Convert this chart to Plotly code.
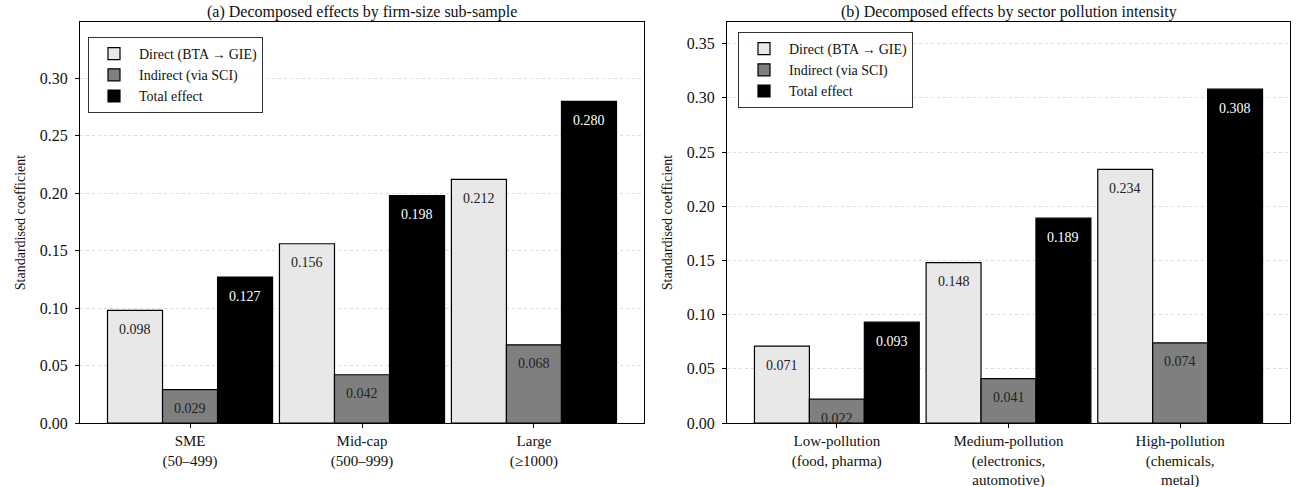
import plotly.graph_objects as go

# ---- data ----
size_labels = ["SME<br>(50–499)", "Mid-cap<br>(500–999)", "Large<br>(≥1000)"]
size_direct = [0.098, 0.156, 0.212]
size_indirect = [0.029, 0.042, 0.068]
size_total = [0.127, 0.198, 0.280]

poll_labels = ["Low-pollution<br>(food, pharma)",
               "Medium-pollution<br>(electronics,<br>automotive)",
               "High-pollution<br>(chemicals,<br>metal)"]
poll_direct = [0.071, 0.148, 0.234]
poll_indirect = [0.022, 0.041, 0.074]
poll_total = [0.093, 0.189, 0.308]

series_names = ["Direct (BTA\u2009\u2192\u2009GIE)", "Indirect (via SCI)", "Total effect"]
colors = ["#e8e8e8", "#7f7f7f", "#000000"]
label_colors = ["#222222", "#222222", "#ffffff"]

FONT = "Liberation Serif"
OFF = 0
W, H = 1298, 487
BW = 0.32
offsets = [-0.48, -0.16, 0.16]

fig = go.Figure()

panels = [
    dict(xa="x", ya="y", legend="legend", labels=size_labels,
         data=[size_direct, size_indirect, size_total],
         title="(a) Decomposed effects by firm-size sub-sample"),
    dict(xa="x2", ya="y2", legend="legend2", labels=poll_labels,
         data=[poll_direct, poll_indirect, poll_total],
         title="(b) Decomposed effects by sector pollution intensity"),
]

annotations = []
for p in panels:
    xs = list(range(len(p["labels"])))
    for k, vals in enumerate(p["data"]):
        fig.add_trace(go.Bar(
            x=xs, y=vals, width=BW, offset=offsets[k],
            name=series_names[k], marker=dict(color=colors[k], line=dict(color="#000000", width=1.2)),
            xaxis=p["xa"], yaxis=p["ya"], legend=p["legend"], hoverinfo="y",
        ))
        for i, v in zip(xs, vals):
            annotations.append(dict(
                x=i + offsets[k] + BW / 2, y=v, xref=p["xa"], yref=p["ya"],
                text=f"{v:.3f}", showarrow=False, yshift=-19,
                font=dict(family=FONT, size=14, color=label_colors[k]),
            ))

def fx(px):
    return (px - OFF) / W

def fy(py):
    return 1 - (py - OFF) / H

y_dom = [fy(423), fy(22)]

axis_common = dict(
    showline=True, linecolor="#000000", linewidth=1, mirror=True,
    ticks="outside", ticklen=4, tickcolor="#000000",
    zeroline=False, automargin=False,
)

ytitle = dict(text="Standardised coefficient", font=dict(family=FONT, size=14, color="#111111"), standoff=10)
xtickfont = dict(family=FONT, size=15, color="#111111")
ytickfont = dict(family=FONT, size=16, color="#111111")

fig.update_layout(
    width=W, height=H, margin=dict(l=0, r=0, t=0, b=0, autoexpand=False),
    plot_bgcolor="#ffffff", paper_bgcolor="#ffffff",
    showlegend=True, barmode="overlay",
    font=dict(family=FONT, size=14, color="#111111"),
    xaxis=dict(domain=[fx(80), fx(644)], anchor="y", range=[-0.64, 2.64],
               tickvals=[0, 1, 2], ticktext=size_labels, showgrid=False,
               tickfont=xtickfont, **axis_common),
    yaxis=dict(domain=y_dom, anchor="x", range=[0, 0.349], dtick=0.05, tickformat=".2f",
               showgrid=True, gridcolor="#dadada", griddash="dot", gridwidth=0.8,
               tickfont=ytickfont, ticklabelstandoff=4, title=ytitle, **axis_common),
    xaxis2=dict(domain=[fx(727), fx(1290)], anchor="y2", range=[-0.64, 2.64],
                tickvals=[0, 1, 2], ticktext=poll_labels, showgrid=False,
                tickfont=xtickfont, **axis_common),
    yaxis2=dict(domain=y_dom, anchor="x2", range=[0, 0.37], dtick=0.05, tickformat=".2f",
                showgrid=True, gridcolor="#dadada", griddash="dot", gridwidth=0.8,
                tickfont=ytickfont, ticklabelstandoff=4, title=ytitle, **axis_common),
    legend=dict(x=fx(88), y=fy(37), xanchor="left", yanchor="top",
                bgcolor="rgba(255,255,255,0.9)", bordercolor="#333333", borderwidth=1,
                font=dict(family=FONT, size=14), tracegroupgap=0, itemwidth=40),
    legend2=dict(x=fx(738), y=fy(32), xanchor="left", yanchor="top",
                 bgcolor="rgba(255,255,255,0.9)", bordercolor="#333333", borderwidth=1,
                 font=dict(family=FONT, size=14), tracegroupgap=0, itemwidth=40),
)

for p, cx in zip(panels, [(80 + 644) / 2, (727 + 1290) / 2]):
    annotations.append(dict(
        x=fx(cx), y=fy(12), xref="paper", yref="paper", text=p["title"],
        showarrow=False, xanchor="center", yanchor="middle",
        font=dict(family=FONT, size=16, color="#111111"),
    ))

fig.update_layout(annotations=annotations)
fig.write_html(
    "out.html",
    config={"displayModeBar": False},
    post_script="document.body.style.margin='0';document.body.style.overflow='hidden';",
)
